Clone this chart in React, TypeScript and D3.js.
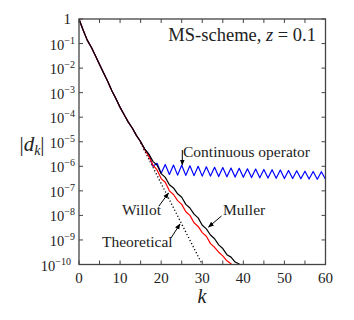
import React from 'react';
import * as d3 from 'd3';

// log10 |d_k|
const mullerK = d3.range(0, 41);
const mullerLog = [0, -0.45, -0.86, -1.15, -1.5, -1.85, -2.2, -2.55, -2.92, -3.25, -3.6,
  -3.9, -4.2, -4.45, -4.75, -5.0, -5.3, -5.5, -5.8, -5.95, -6.3,
  -6.45, -6.75, -6.88, -7.12, -7.26, -7.55, -7.7, -7.95, -8.1, -8.4,
  -8.55, -8.8, -8.95, -9.2, -9.35, -9.6, -9.7, -9.9, -9.98, -10.2];

const willotK = d3.range(0, 39);
const willotLog = [0, -0.45, -0.86, -1.15, -1.5, -1.85, -2.2, -2.55, -2.92, -3.25, -3.6,
  -3.9, -4.2, -4.45, -4.75, -5.0, -5.32, -5.6, -5.95, -6.15, -6.5,
  -6.65, -7.0, -7.15, -7.4, -7.55, -7.85, -8.0, -8.3, -8.45, -8.7,
  -8.85, -9.15, -9.3, -9.5, -9.65, -9.85, -9.97, -10.25];

const contK = d3.range(0, 61);
const contLog = [0, -0.45, -0.86, -1.15, -1.5, -1.85, -2.2, -2.55, -2.92, -3.25, -3.6,
  -3.9, -4.2, -4.45, -4.75, -5.0, -5.3, -5.52, -6.0, -5.88, -6.28,
  -5.93, -6.33, -5.95, -6.36, -5.96, -6.37, -5.98, -6.38, -6.0, -6.4,
  -6.02, -6.4, -6.04, -6.42, -6.05, -6.43, -6.07, -6.44, -6.08, -6.45,
  -6.1, -6.46, -6.11, -6.47, -6.13, -6.48, -6.14, -6.49, -6.15, -6.5,
  -6.17, -6.5, -6.18, -6.51, -6.2, -6.52, -6.21, -6.53, -6.22, -6.53];

const theoK = [15, 16, 18, 20, 22, 24, 26, 28, 30, 31];
const theoLog = [-5.05, -5.38, -6.04, -6.7, -7.36, -8.02, -8.68, -9.34, -10.0, -10.33];

const xTicks = [0, 10, 20, 30, 40, 50, 60];
const xMinor = [5, 15, 25, 35, 45, 55];
const yExps = [0, -1, -2, -3, -4, -5, -6, -7, -8, -9, -10];

const W = 354, H = 320;
const L = 79, R = 325.5, T = 19, B = 264.5;
const FONT = '"Liberation Serif", "DejaVu Serif", serif';
const TXT = '#222';
const AX = '#444';

export default function App() {
  const x = d3.scaleLinear().domain([0, 60]).range([L, R]);
  const y = d3.scaleLog().domain([1e-10, 1]).range([B, T]);
  const line = (ks: number[], vs: number[]) =>
    d3.line<number>().x((_, i) => x(ks[i])).y((v) => y(Math.pow(10, v)))(vs) || '';
  const ts = { fontFamily: FONT };

  return (
    <svg width={W} height={H} style={{ position: 'absolute', left: 0, top: 0, background: '#fff' }}>
      <defs>
        <clipPath id="plot"><rect x={L} y={T} width={R - L} height={B - T} /></clipPath>
        <marker id="ah" viewBox="0 0 10 10" refX="9" refY="5" markerWidth="6" markerHeight="6" orient="auto">
          <path d="M0,1 L10,5 L0,9 Z" fill="#000" />
        </marker>
      </defs>
      <g clipPath="url(#plot)" fill="none" strokeLinejoin="round">
        <path d={line(theoK, theoLog)} stroke="#000" strokeWidth={1.3} strokeDasharray="1.2 2.2" />
        <path d={line(contK, contLog)} stroke="#0000ff" strokeWidth={1.2} />
        <path d={line(willotK, willotLog)} stroke="#ff0000" strokeWidth={1.2} />
        <path d={line(mullerK, mullerLog)} stroke="#000" strokeWidth={1.2} />
      </g>
      {/* frame and ticks */}
      <rect x={L} y={T} width={R - L} height={B - T} fill="none" stroke={AX} strokeWidth={1.3} />
      {xTicks.concat(xMinor).map((t) => (
        <g key={'xt' + t} stroke={AX} strokeWidth={1}>
          <line x1={x(t)} x2={x(t)} y1={B} y2={B - 4} />
          <line x1={x(t)} x2={x(t)} y1={T} y2={T + 4} />
        </g>
      ))}
      {yExps.map((e) => (
        <g key={'yt' + e} stroke={AX} strokeWidth={1}>
          <line x1={L} x2={L + 4} y1={y(Math.pow(10, e))} y2={y(Math.pow(10, e))} />
          <line x1={R} x2={R - 4} y1={y(Math.pow(10, e))} y2={y(Math.pow(10, e))} />
        </g>
      ))}
      {xTicks.map((t) => (
        <text key={'xl' + t} x={x(t)} y={283} fontSize={15} textAnchor="middle" fill={TXT} style={ts}>{t}</text>
      ))}
      {yExps.map((e) => (
        e === 0 ? (
          <text key="yl0" x={71} y={y(1) + 5} fontSize={15} textAnchor="end" fill={TXT} style={ts}>1</text>
        ) : (
          <text key={'yl' + e} x={e === -10 ? 71 : 75} y={y(Math.pow(10, e)) + 6} fontSize={14.5} textAnchor="end" fill={TXT} style={ts}>
            10<tspan dy={-6} fontSize={10}>{'\u2212' + -e}</tspan>
          </text>
        )
      ))}
      {/* axis titles */}
      <text x={32} y={151} fontSize={21} textAnchor="middle" fill={TXT} style={ts}>
        |<tspan fontStyle="italic">d</tspan><tspan fontStyle="italic" fontSize={14} dy={4}>k</tspan><tspan dy={-4}>|</tspan>
      </text>
      <text x={202} y={303} fontSize={20} fontStyle="italic" textAnchor="middle" fill={TXT} style={ts}>k</text>
      {/* annotations */}
      <text x={316} y={41} fontSize={18.5} textAnchor="end" fill={TXT} style={ts}>
        MS-scheme, <tspan fontStyle="italic">z</tspan> = 0.1
      </text>
      <text x={183} y={157} fontSize={15.5} fill={TXT} style={ts}>Continuous operator</text>
      <line x1={182.3} y1={150} x2={182.3} y2={165} stroke="#000" strokeWidth={1} markerEnd="url(#ah)" />
      <text x={223} y={215} fontSize={15.5} fill={TXT} style={ts}>Muller</text>
      <line x1={221.5} y1={216} x2={208.5} y2={227} stroke="#000" strokeWidth={1} markerEnd="url(#ah)" />
      <text x={122} y={215} fontSize={15.5} fill={TXT} style={ts}>Willot</text>
      <line x1={159} y1={206} x2={168.5} y2={193} stroke="#000" strokeWidth={1} markerEnd="url(#ah)" />
      <text x={102} y={247} fontSize={15.5} fill={TXT} style={ts}>Theoretical</text>
      <line x1={171} y1={238} x2={180} y2={224} stroke="#000" strokeWidth={1} markerEnd="url(#ah)" />
    </svg>
  );
}
